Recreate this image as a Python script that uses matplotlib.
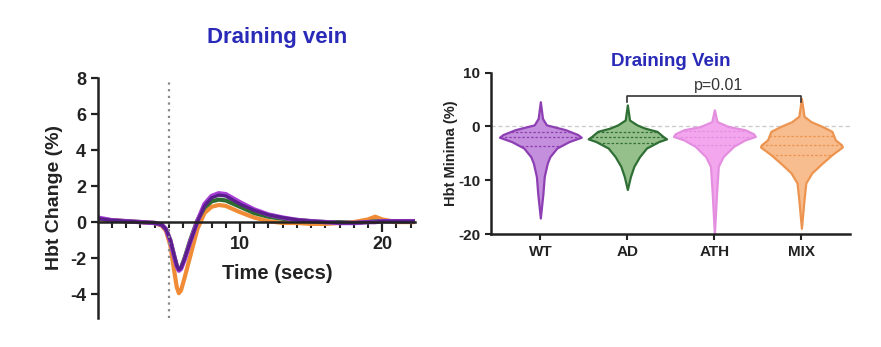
import numpy as np
import matplotlib.pyplot as plt

plt.rcParams['font.family'] = ['Liberation Sans', 'DejaVu Sans']
plt.rcParams['axes.unicode_minus'] = False

# ---- time course (left) ----
time_s = [0, 1, 2, 3, 4, 4.5, 4.8, 5.1, 5.35, 5.55, 5.7, 5.85, 6.1, 6.5, 7.0, 7.5, 8.0, 8.5, 9.0,
          10, 11, 12, 13, 14, 15, 16, 17, 18, 19, 19.5, 20, 21, 22.3]
trace_mix = [0.15, 0.1, 0.05, 0.0, -0.05, -0.2, -0.5, -1.3, -2.6, -3.6, -3.95, -3.8, -3.1, -1.9, -0.4, 0.5,
             0.85, 0.95, 0.9, 0.55, 0.25, 0.05, -0.05, -0.05, -0.1, -0.1, -0.05, 0.0, 0.15, 0.3, 0.15, 0.0, 0.0]
trace_ad = [0.2, 0.1, 0.05, 0.0, -0.05, -0.15, -0.4, -1.0, -1.8, -2.4, -2.65, -2.55, -2.0, -1.0, 0.1, 0.8,
            1.15, 1.25, 1.2, 0.85, 0.5, 0.3, 0.18, 0.12, 0.05, 0.0, 0.0, -0.05, 0.0, 0.05, 0.05, 0.05, 0.05]
trace_wt = [0.2, 0.1, 0.05, 0.0, -0.05, -0.15, -0.4, -1.0, -1.8, -2.4, -2.65, -2.55, -2.05, -1.1, 0.0, 0.9,
            1.35, 1.5, 1.45, 1.0, 0.65, 0.4, 0.25, 0.12, 0.05, 0.0, -0.05, -0.05, 0.0, 0.0, 0.05, 0.05, 0.05]
trace_ath = [0.25, 0.1, 0.05, 0.0, -0.05, -0.15, -0.4, -1.05, -1.85, -2.45, -2.7, -2.6, -2.1, -1.1, 0.05, 1.0,
             1.45, 1.6, 1.55, 1.1, 0.7, 0.42, 0.25, 0.12, 0.05, 0.0, -0.05, -0.05, 0.0, 0.0, 0.05, 0.05, 0.05]

# ---- violin profiles (right): (y level, half width) ----
groups = ["WT", "AD", "ATH", "MIX"]
wt_y = [4.6, 1.5, 0.3, -0.6, -1.5, -2.0, -2.8, -4.0, -5.6, -6.8, -9.3, -12.4, -17.0]
wt_w = [0.0, 0.025, 0.07, 0.29, 0.43, 0.47, 0.33, 0.19, 0.11, 0.08, 0.045, 0.03, 0.0]
ad_y = [4.0, 1.2, 0.3, -0.3, -0.9, -1.85, -2.3, -2.8, -4.0, -5.6, -7.4, -9.3, -11.7]
ad_w = [0.0, 0.025, 0.11, 0.20, 0.34, 0.41, 0.45, 0.36, 0.22, 0.14, 0.075, 0.035, 0.0]
ath_y = [3.1, 0.9, 0.0, -0.6, -1.35, -1.85, -2.5, -3.7, -5.6, -7.4, -12.4, -20.0]
ath_w = [0.0, 0.03, 0.16, 0.35, 0.45, 0.47, 0.35, 0.22, 0.10, 0.045, 0.025, 0.0]
mix_y = [5.2, 1.9, 0.9, 0.0, -0.9, -2.5, -3.4, -3.8, -5.25, -6.8, -8.6, -10.5, -13.6, -18.9]
mix_w = [0.0, 0.03, 0.11, 0.24, 0.35, 0.39, 0.46, 0.47, 0.35, 0.24, 0.12, 0.05, 0.03, 0.0]
quartiles = [[-0.93, -1.97, -3.7], [-1.05, -2.0, -3.0], [-0.9, -2.0, -3.5], [-1.85, -3.5, -5.25]]

fills = ["#c48fdc", "#95c08c", "#f3a6ee", "#f8bd8e"]
edges = ["#8d3fb3", "#2f6f35", "#e48ee0", "#ec9450"]

fig = plt.figure(figsize=(8.81, 3.47), dpi=100)

# left panel
ax = fig.add_axes([0.111, 0.085, 0.36, 0.69])
ax.plot(time_s, trace_mix, color="#f08c35", lw=3.0)
ax.plot(time_s, trace_ad, color="#2e6b30", lw=3.0)
ax.plot(time_s, trace_ath, color="#a83fd6", lw=3.2)
ax.plot(time_s, trace_wt, color="#5a1f8c", lw=2.4)
ax.axvline(5, ymin=0, ymax=1, color="#888888", lw=1.6, ls=(0, (1, 2)))
ax.set_xlim(0, 22.3)
ax.set_ylim(-5.3, 8)
ax.spines['top'].set_visible(False)
ax.spines['right'].set_visible(False)
ax.spines['bottom'].set_position(('data', 0))
for s in ['left', 'bottom']:
    ax.spines[s].set_linewidth(1.8)
    ax.spines[s].set_color("#222222")
ax.set_yticks([-4, -2, 0, 2, 4, 6, 8])
ax.set_xticks([10, 20])
ax.set_xticks(np.arange(1, 23), minor=True)
ax.tick_params(axis='y', direction='out', length=5, width=1.6, labelsize=13, colors="#222222")
ax.tick_params(axis='x', which='major', direction='out', length=7, width=1.6, labelsize=13, colors="#222222", pad=3)
ax.tick_params(axis='x', which='minor', direction='out', length=4, width=1.5, colors="#222222")
for lab in ax.get_xticklabels() + ax.get_yticklabels():
    lab.set_fontweight('bold')
ax.set_ylabel("Hbt Change (%)", fontsize=14, fontweight='bold', color="#222222", labelpad=5)
ax.text(0.565, 0.185, "Time (secs)", transform=ax.transAxes, ha='center', va='center',
        fontsize=14.5, fontweight='bold', color="#222222")
fig.text(277 / 881, 1 - 38 / 347, "Draining vein", ha='center', va='center',
         fontsize=16, fontweight='bold', color="#2a2ab8")

# right panel
ax2 = fig.add_axes([0.557, 0.325, 0.408, 0.4657])
profiles = [(wt_y, wt_w), (ad_y, ad_w), (ath_y, ath_w), (mix_y, mix_w)]
ax2.axhline(0, color="#cccccc", lw=1.0, ls=(0, (3, 2)), zorder=0)
for i, (yy, ww) in enumerate(profiles):
    yy = np.array(yy)
    ww = np.array(ww)
    ax2.fill_betweenx(yy, i - ww, i + ww, facecolor=fills[i], edgecolor=edges[i], lw=1.6, zorder=2)
    for q in quartiles[i]:
        hw = np.interp(q, yy[::-1], ww[::-1])
        ax2.plot([i - hw, i + hw], [q, q], color=edges[i], lw=0.9, ls=(0, (2, 1.5)), zorder=3)
ax2.plot([1, 1, 3, 3], [4.6, 5.6, 5.6, 4.6], color="#333333", lw=1.2)
ax2.text(2.05, 6.2, "p=0.01", ha='center', va='bottom', fontsize=11.5, color="#333333")
ax2.set_xlim(-0.57, 3.56)
ax2.set_ylim(-20, 10)
ax2.set_xticks(range(len(groups)))
ax2.set_xticklabels(groups)
ax2.set_yticks([-20, -10, 0, 10])
ax2.spines['top'].set_visible(False)
ax2.spines['right'].set_visible(False)
for s in ['left', 'bottom']:
    ax2.spines[s].set_linewidth(1.8)
    ax2.spines[s].set_color("#222222")
ax2.tick_params(axis='both', direction='out', length=4, width=1.5, labelsize=11, colors="#222222")
for lab in ax2.get_xticklabels() + ax2.get_yticklabels():
    lab.set_fontweight('bold')
ax2.set_ylabel("Hbt Minima (%)", fontsize=10.5, fontweight='bold', color="#222222", labelpad=0)
ax2.set_title("Draining Vein", fontsize=13.5, fontweight='bold', color="#2a2ab8", pad=5)

fig.savefig("out.png", dpi=100)
